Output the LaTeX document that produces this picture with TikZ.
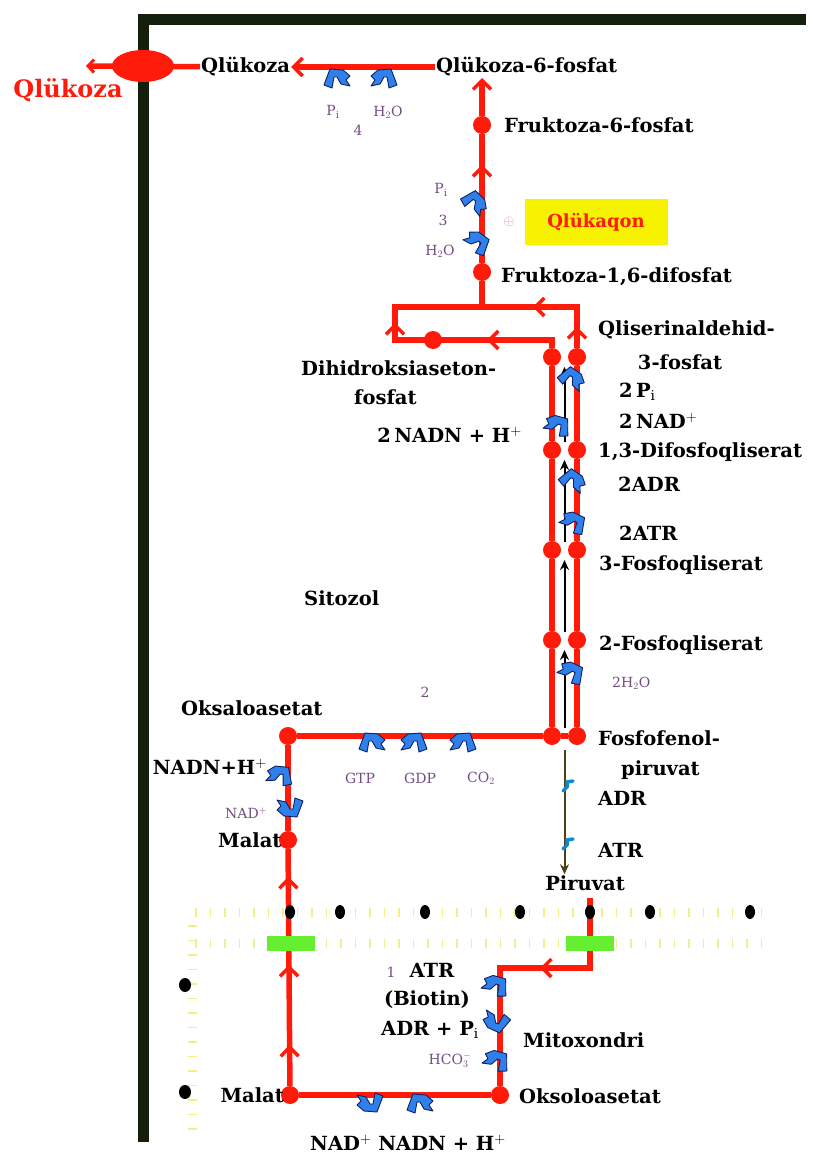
\documentclass[tikz,border=0pt]{standalone}
\usepackage{fontspec}
\setmainfont{DejaVu Serif}
\usetikzlibrary{arrows.meta,positioning,decorations.markings,shapes.geometric,calc}
\definecolor{pathred}{HTML}{FF1A0A}
\definecolor{wallgreen}{rgb}{0.08,0.12,0.05}
\definecolor{enzblue}{HTML}{2F80EA}
\definecolor{enzedge}{HTML}{102060}
\definecolor{smallink}{rgb}{0.45,0.3,0.5}
\definecolor{membyellow}{HTML}{F2EE8A}
\definecolor{boxgreen}{HTML}{66EE33}
\definecolor{glucyellow}{HTML}{F6F200}
\tikzset{barb/.tip={Straight Barb[length=9pt,width=18pt,line width=3.5pt,color=pathred]},
  enz/.pic={\filldraw[fill=enzblue,draw=enzedge,line width=0.9pt,line join=round]
    (-13,7) -- (-7,-9) -- (6,-8) -- (13,-2) -- (9,2) -- (13,8) -- (4,6) -- (0,-1)
    -- (-3,-1) -- (-5,10) -- cycle;},
  hk/.pic={\draw[draw=cyan!70!blue,line width=3.5pt,line cap=round] (-4,4) -- (0,0) -- (0,-5) -- (6,-6);}}

\begin{document}
\begin{tikzpicture}[x=1pt,y=-1pt,>=Latex,
  route/.style={draw=pathred,line width=5.5pt},
  dot/.style={circle,fill=pathred,inner sep=0pt,minimum size=18pt},
  met/.style={font=\bfseries\fontsize{19.5}{24}\selectfont,inner sep=1pt},
  minor/.style={font=\fontsize{14}{16}\selectfont,text=smallink,inner sep=0pt},
  fwd/.style={postaction={decorate,decoration={markings,mark=at position #1 with {\arrow{barb}}}}},
  hop/.style={black,line width=2pt,-{Stealth[length=10pt,width=9pt]}},
  memb/.style={draw=membyellow,line width=9pt,dash pattern=on 1.5pt off 13pt},
  gate/.style={fill=boxgreen,minimum width=48pt,minimum height=15pt,inner sep=0pt},
  wall/.style={draw=wallgreen,line width=11pt}]
\useasboundingbox (0,0) rectangle (812,1161);
% cell wall
\draw[wall] (806,20) -- (143,20) -- (143,1142);
% mitochondrial membrane
\draw[memb] (195,912) -- (770,912);
\draw[memb] (195,943) -- (770,943);
\draw[memb] (192,925) -- (192,1140);

% metabolite dots
\node[dot] (f6p) at (482,125) {};
\node[dot] (f16) at (482,272) {};
\node[dot] (dha) at (433,340) {};
\foreach \n/\y in {1/357,2/450,3/550,4/640}{
  \node[dot] (L\n) at (552,\y) {};
  \node[dot] (R\n) at (577,\y) {};
}
\node[dot] (pepL) at (552,736) {};
\node[dot] (pepR) at (577,736) {};
\node[dot] (oaa) at (288,736) {};
\node[dot] (malc) at (288,840) {};
\node[dot] (malm) at (290,1095) {};
\node[dot] (oaam) at (500,1095) {};
\coordinate (g6pin) at (482,78);
\coordinate (fork) at (482,307);
\coordinate (c1) at (395,307);
\coordinate (c2) at (577,307);
\coordinate (c3) at (395,340);
\coordinate (c4) at (552,340);
\coordinate (pyrin) at (590,898);
\coordinate (p2) at (590,968);
\coordinate (p3) at (500,968);
\coordinate (glcout) at (86,66);

% labels
\node[met,anchor=west] (glc) at (200,67) {Qlükoza};
\node[met,anchor=west] (g6p) at (435,67) {Qlükoza-6-fosfat};
\node[met,anchor=west] (f6pt) at (503,125) {Fruktoza-6-fosfat};
\node[met,anchor=west] (f16t) at (500,277) {Fruktoza-1,6-difosfat};
\node[met,anchor=west] (gapt) at (597,330) {Qliserinaldehid-};
\node[met] (gapt2) at (680,362) {3-fosfat};
\node[met,anchor=west] (pit) at (618,392) {2\,P$_\mathrm{i}$};
\node[met,anchor=west] (nadt) at (618,421) {2\,NAD$^+$};
\node[met,anchor=west] (bpgt) at (597,452) {1,3-Difosfoqliserat};
\node[met,anchor=west] (adr2) at (617,484) {2ADR};
\node[met,anchor=west] (atr2) at (618,533) {2ATR};
\node[met,anchor=west] (pg3t) at (598,565) {3-Fosfoqliserat};
\node[met,anchor=west] (pg2t) at (598,645) {2-Fosfoqliserat};
\node[minor,anchor=west] (wat2) at (612,683) {2H$_2$O};
\node[met,anchor=west] (pept) at (597,738) {Fosfofenol-};
\node[met,anchor=west] (pept2) at (620,770) {piruvat};
\node[met,anchor=west] (adrt) at (597,798) {ADR};
\node[met,anchor=west] (atrt) at (597,850) {ATR};
\node[met] (pyrt) at (585,883) {Piruvat};
\node[met,anchor=west] (dhat) at (300,368) {Dihidroksiaseton-};
\node[met,anchor=west] (dhat2) at (353,397) {fosfat};
\node[met,anchor=east] (nadh2) at (523,435) {2\,NADN + H$^+$};
\node[met,anchor=west] (cyto) at (303,598) {Sitozol};
\node[met,anchor=west] (oaat) at (180,708) {Oksaloasetat};
\node[met,anchor=east] (nadhc) at (268,767) {NADN+H$^+$};
\node[minor,anchor=west] (nadc) at (225,813) {NAD$^+$};
\node[met,anchor=west] (malt) at (217,840) {Malat};
\node[met,anchor=east] (malmt) at (285,1095) {Malat};
\node[met,anchor=west] (oaamt) at (518,1096) {Oksoloasetat};
\node[met] (atrm) at (432,970) {ATR};
\node[met] (biot) at (427,1000) {(Biotin)};
\node[met] (adrm) at (430,1030) {ADR + P$_\mathrm{i}$};
\node[met,anchor=west] (mito) at (522,1040) {Mitoxondri};
\node[minor] (hco) at (450,1060) {HCO$_3^-$};
\node[met] (nadm) at (408,1143) {NAD$^+$\ NADN + H$^+$};
\node[minor] (one) at (391,972) {1};
\node[minor] (pi4) at (333,112) {P$_\mathrm{i}$};
\node[minor] (four) at (358,130) {4};
\node[minor] (w4) at (388,112) {H$_2$O};
\node[minor] (pi3) at (441,190) {P$_\mathrm{i}$};
\node[minor] (three) at (443,220) {3};
\node[minor] (w3) at (440,251) {H$_2$O};
\node[minor] (two) at (425,692) {2};
\node[minor] (gtp) at (360,778) {GTP};
\node[minor] (gdp) at (420,778) {GDP};
\node[minor] (co2) at (481,778) {CO$_2$};
\node[font=\bfseries\fontsize{24}{28}\selectfont,text=pathred] (glcx) at (68,90) {Qlükoza};
\node[fill=glucyellow,text=pathred,font=\bfseries\fontsize{18}{22}\selectfont,
  minimum width=143pt,minimum height=45pt] (glcg) at (596,222) {Qlükaqon};
\node[text=pink!70!red,font=\fontsize{15}{17}\selectfont] (plus) at (509,222) {$\oplus$};

% red pathway
\draw[route,-barb] (g6p) -- (glc);
\draw[route,-{Straight Barb[length=6pt,width=13pt,line width=3pt]}] (glc) -- (glcout);
\node[ellipse,fill=pathred,minimum width=62pt,minimum height=32pt,inner sep=0pt] (glcex) at (143,66) {};
\draw[route] (fork) -- (f16);
\draw[route,fwd=98pt] (f16) -- (f6p);
\draw[route,-barb] (f6p) -- (g6pin);
\draw[route,fwd=21pt,fwd=85pt] (R1) -- (c2) -- (fork);
\draw[route,fwd=73pt,fwd=182pt] (L1) -- (c4) -- (c3) -- (c1) -- (fork);
\draw[route] (pepL) -- (L4) -- (L3) -- (L2) -- (L1);
\draw[route] (pepR) -- (R4) -- (R3) -- (R2) -- (R1);
\draw[route] (pepR) -- (pepL) -- (oaa);
\draw[route] (malc) -- (oaa);
\draw[route,fwd=41pt,fwd=121pt,fwd=209pt] (malm) -- (malc);
\draw[route] (malm) -- (oaam);
\draw[route,fwd=120pt] (pyrin) -- (p2) -- (p3) -- (oaam);

% membrane pores and particles
\node[gate] (gL) at (291,943) {};
\node[gate] (gR) at (590,943) {};
\foreach \x in {290,340,425,520,590,650,750}
  \fill[black] (\x,912) ellipse (5pt and 7pt);
\fill[black] (185,985) ellipse (6pt and 7pt);
\fill[black] (185,1092) ellipse (6pt and 7pt);

% black shuttle arrows between the columns
\foreach \n in {1,...,4}
  \coordinate (M\n) at ($(L\n)!.5!(R\n)$);
\coordinate (M5) at ($(pepL)!.5!(pepR)$);
\draw[hop,shorten <=8pt,shorten >=10pt] (M2) -- (M1);
\draw[hop,shorten <=8pt,shorten >=10pt] (M3) -- (M2);
\draw[hop,shorten <=8pt,shorten >=10pt] (M4) -- (M3);
\draw[hop,shorten <=8pt,shorten >=10pt] (M5) -- (M4);
\draw[hop,draw={rgb,1:red,0.3;green,0.25;blue,0.1},shorten <=14pt] (M5) -- (M5 |- pyrt.north);

% enzymes
\pic at (337,78) {enz};
\pic[xscale=-1] at (384,78) {enz};
\pic[rotate=-40] at (475,202) {enz};
\pic[xscale=-1,rotate=40] at (478,242) {enz};
\pic[rotate=-30] at (572,378) {enz};
\pic[xscale=-1,rotate=20] at (558,425) {enz};
\pic[rotate=-30] at (573,480) {enz};
\pic[xscale=-1,rotate=30] at (574,522) {enz};
\pic[xscale=-1,rotate=30] at (572,672) {enz};
\pic at (372,742) {enz};
\pic[xscale=-1] at (414,742) {enz};
\pic[xscale=-1] at (463,742) {enz};
\pic[xscale=-1,rotate=10] at (280,775) {enz};
\pic[rotate=180] at (290,808) {enz};
\pic[xscale=-1,rotate=20] at (496,985) {enz};
\pic[rotate=160] at (496,1022) {enz};
\pic[xscale=-1,rotate=20] at (497,1060) {enz};
\pic[rotate=180] at (370,1103) {enz};
\pic at (420,1103) {enz};
\pic at (567,787) {hk};
\pic at (567,845) {hk};
\end{tikzpicture}
\end{document}
